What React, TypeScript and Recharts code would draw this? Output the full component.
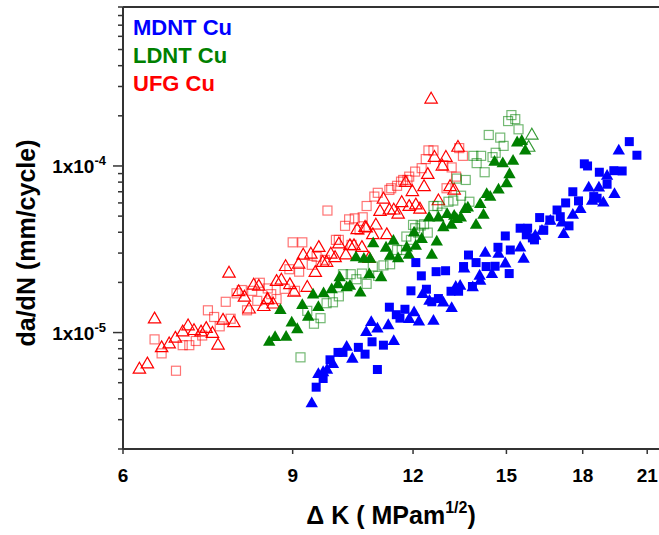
import React from 'react';
import { ScatterChart, Scatter, XAxis, YAxis, ReferenceLine } from 'recharts';

// ΔK (MPa m^1/2), da/dN (mm/cycle)
const mdntSquares: [number, number][] = [
  [9.52, 4.7e-6], [9.68, 5.3e-6], [9.84, 6.86e-6], [10.03, 7.6e-6], [10.15, 7.6e-6], [10.53, 8.15e-6],
  [10.7, 7.42e-6], [10.88, 8.8e-6], [11.02, 6.0e-6], [11.18, 8.4e-6], [11.34, 1.42e-5], [11.53, 1.28e-5],
  [11.63, 1.22e-5], [11.77, 1.38e-5], [11.94, 1.78e-5], [12.08, 2.63e-5], [12.24, 2.19e-5], [12.39, 1.82e-5],
  [12.55, 1.53e-5], [12.68, 2.32e-5], [12.75, 1.6e-5], [12.97, 2.35e-5], [13.14, 1.77e-5], [13.38, 1.77e-5],
  [13.54, 2.49e-5], [13.7, 2.92e-5], [13.83, 1.89e-5], [13.95, 2.63e-5], [14.29, 2.49e-5], [14.6, 2.5e-5],
  [14.7, 3.25e-5], [14.96, 3.8e-5], [15.1, 2.26e-5], [15.14, 3.13e-5], [15.5, 4.23e-5], [15.78, 4.23e-5],
  [15.73, 3.86e-5], [15.96, 3.7e-5], [16.04, 3.6e-5], [16.24, 4.9e-5], [16.4, 4.13e-5], [16.64, 4.74e-5],
  [16.93, 5.44e-5], [17.06, 4.96e-5], [17.28, 6.0e-5], [17.42, 4.37e-5], [17.58, 7.0e-5], [17.82, 6.17e-5],
  [18.07, 1.03e-4], [18.21, 1.0e-4], [18.48, 6.55e-5], [18.63, 6.4e-5], [18.73, 9.17e-5], [19.08, 7.77e-5],
  [19.39, 9.37e-5], [19.78, 9.33e-5], [20.12, 1.4e-4], [20.49, 1.16e-4],
];

const mdntTriangles: [number, number][] = [
  [9.42, 3.8e-6], [9.57, 5.7e-6], [9.68, 5.85e-6], [9.77, 6.05e-6], [9.91, 6.55e-6], [10.24, 8.3e-6],
  [10.38, 7.05e-6], [10.73, 1.02e-5], [10.86, 1.17e-5], [11.02, 1.07e-5], [11.31, 1.12e-5], [11.46, 9.0e-6],
  [11.89, 1.22e-5], [12.03, 1.34e-5], [12.17, 1.18e-5], [12.28, 1.72e-5], [12.48, 1.57e-5], [12.6, 1.19e-5],
  [12.9, 1.53e-5], [13.16, 1.42e-5], [13.29, 1.9e-5], [13.43, 1.93e-5], [13.56, 2.45e-5], [13.84, 1.89e-5],
  [14.07, 2.22e-5], [14.09, 2.07e-5], [14.26, 3.05e-5], [14.49, 2.27e-5], [14.72, 3.0e-5], [14.96, 2.63e-5],
  [15.5, 3.28e-5], [15.63, 2.8e-5], [16.07, 3.86e-5], [16.33, 4.13e-5], [16.66, 4.74e-5], [17.13, 4.63e-5],
  [17.2, 3.95e-5], [17.58, 5.15e-5], [17.9, 5.57e-5], [18.26, 7.5e-5], [18.41, 6.25e-5], [18.71, 7.5e-5],
  [18.91, 6.1e-5], [19.08, 8.83e-5], [19.42, 6.86e-5], [19.62, 1.25e-4],
];

const ldntTriangles: [number, number][] = [
  [8.51, 8.9e-6], [8.63, 9.5e-6], [8.86, 9.55e-6], [8.74, 1.38e-5], [8.98, 1.16e-5], [9.1, 1.06e-5],
  [9.21, 1.48e-5], [9.45, 1.71e-5], [9.57, 1.44e-5], [9.69, 1.74e-5], [9.34, 1.26e-5], [9.88, 1.84e-5],
  [10.03, 1.97e-5], [10.07, 2.17e-5], [10.24, 1.89e-5], [10.32, 1.93e-5], [10.58, 1.76e-5], [10.47, 2.86e-5],
  [10.67, 2.8e-5], [10.83, 2.8e-5], [10.91, 3.47e-5], [10.81, 2.26e-5], [11.12, 2.17e-5], [11.25, 3.27e-5],
  [11.36, 2.92e-5], [11.45, 3.6e-5], [11.58, 2.82e-5], [11.82, 3.28e-5], [11.88, 2.96e-5], [12.03, 4.03e-5],
  [12.08, 3.36e-5], [12.25, 3.69e-5], [12.47, 4.96e-5], [12.55, 2.96e-5], [12.7, 3.56e-5], [12.75, 4.96e-5],
  [12.9, 4.34e-5], [13.02, 5.2e-5], [13.15, 4.49e-5], [13.24, 5.08e-5], [13.32, 4.86e-5], [13.45, 4.96e-5],
  [13.59, 5.57e-5], [13.68, 5.7e-5], [13.95, 4.49e-5], [14.09, 5.97e-5], [14.2, 5.15e-5], [14.31, 6.86e-5],
  [14.43, 6.6e-5], [14.58, 1.07e-4], [14.72, 7.31e-5], [14.87, 1.05e-4], [15.01, 7.96e-5], [15.11, 9.03e-5],
  [15.24, 1.086e-4], [15.39, 1.4e-4], [15.56, 1.43e-4], [15.69, 1.25e-4],
];

const ldntSquares: [number, number][] = [
  [9.17, 7.1e-6], [9.32, 1.35e-5], [9.47, 1.13e-5], [9.62, 1.22e-5], [9.76, 1.5e-5], [9.91, 1.52e-5],
  [10.05, 1.65e-5], [10.15, 2.24e-5], [10.34, 2.24e-5], [10.48, 2.09e-5], [10.62, 2.26e-5], [10.74, 1.96e-5],
  [10.9, 2.49e-5], [11.04, 2.19e-5], [11.18, 2.53e-5], [11.36, 2.57e-5], [11.55, 3.13e-5], [11.68, 3.13e-5],
  [11.81, 3.77e-5], [11.94, 3.6e-5], [12.0, 4.43e-5], [12.06, 4.23e-5], [12.15, 3.98e-5], [12.22, 4.39e-5],
  [12.32, 4.47e-5], [12.43, 3.98e-5], [12.6, 5.75e-5], [12.72, 5.75e-5], [12.85, 5.25e-5], [13.06, 6.1e-5],
  [13.21, 6.2e-5], [13.32, 8.4e-5], [13.46, 6.63e-5], [13.61, 8.24e-5], [13.73, 6.1e-5], [13.86, 1.15e-4],
  [14.12, 1.15e-4], [13.97, 1.04e-4], [14.24, 9.17e-5], [14.38, 1.535e-4], [14.51, 1.13e-4], [14.62, 1.2e-4],
  [14.78, 1.48e-4], [14.9, 1.32e-4], [15.06, 1.86e-4], [15.18, 2.02e-4], [15.32, 1.91e-4], [15.44, 1.66e-4],
];

const ldntOpenTriangles: [number, number][] = [
  [15.94, 1.55e-4], [15.82, 1.31e-4],
];

const ufgTriangles: [number, number][] = [
  [6.24, 6.1e-6], [6.36, 6.55e-6], [6.47, 1.22e-5], [6.58, 8.2e-6], [6.7, 8.65e-6], [6.8, 9.35e-6],
  [6.92, 1.02e-5], [7.01, 1.11e-5], [7.11, 1.04e-5], [7.23, 1.02e-5], [7.32, 1.07e-5], [7.43, 1.0e-5],
  [7.53, 8.5e-6], [7.62, 1.2e-5], [7.73, 2.3e-5], [7.82, 1.16e-5], [7.91, 1.78e-5], [8.02, 1.65e-5],
  [8.11, 1.4e-5], [8.2, 1.95e-5], [8.3, 1.92e-5], [8.4, 1.45e-5], [8.47, 1.59e-5], [8.59, 1.5e-5],
  [8.66, 2.05e-5], [8.76, 2.09e-5], [8.85, 2.52e-5], [8.94, 1.96e-5], [8.48, 1.6e-5], [9.03, 1.77e-5],
  [9.13, 2.6e-5], [9.23, 2.95e-5], [9.32, 1.89e-5], [9.4, 2.99e-5], [9.5, 2.32e-5], [9.58, 3.28e-5],
  [9.67, 2.67e-5], [9.76, 2.67e-5], [9.86, 2.99e-5], [9.96, 2.85e-5], [10.05, 3.44e-5], [10.22, 2.96e-5],
  [10.32, 3.36e-5], [10.42, 3.36e-5], [10.5, 4.19e-5], [10.62, 3.28e-5], [10.7, 4.33e-5], [10.8, 2.82e-5],
  [10.9, 3.91e-5], [10.98, 4.47e-5], [11.09, 5.4e-5], [11.18, 6.4e-5], [11.27, 3.91e-5], [11.34, 5.5e-5],
  [11.46, 5.5e-5], [11.58, 5.2e-5], [11.68, 6.1e-5], [11.79, 8.05e-5], [11.89, 5.78e-5], [11.98, 7.1e-5],
  [12.08, 5.9e-5], [12.2, 5.57e-5], [12.32, 7.6e-5], [12.43, 9.0e-5], [12.53, 2.55e-4], [12.63, 1.14e-4],
  [12.75, 6.25e-5], [12.87, 1.01e-4], [12.98, 1.14e-4], [13.11, 7.6e-5], [13.24, 7.25e-5], [13.36, 1.31e-4],
  [10.73, 4.29e-5],
];

const ufgSquares: [number, number][] = [
  [6.47, 9.1e-6], [6.58, 7.5e-6], [6.81, 5.9e-6], [6.92, 8.4e-6], [7.03, 8.4e-6], [7.14, 8.9e-6],
  [7.25, 9.6e-6], [7.35, 1.36e-5], [7.46, 1.24e-5], [7.56, 1.09e-5], [7.67, 1.53e-5], [7.76, 1.21e-5],
  [7.87, 1.72e-5], [7.97, 1.8e-5], [8.07, 1.36e-5], [8.17, 1.78e-5], [8.27, 1.55e-5], [8.32, 1.99e-5],
  [8.48, 1.84e-5], [8.55, 1.7e-5], [8.66, 1.59e-5], [8.83, 1.83e-5], [8.93, 2.4e-5], [9.0, 3.48e-5],
  [9.21, 3.48e-5], [9.05, 1.78e-5], [9.14, 2.32e-5], [9.42, 2.55e-5], [9.53, 2.85e-5], [9.72, 2.73e-5],
  [9.78, 5.4e-5], [9.98, 3.6e-5], [10.05, 3.6e-5], [10.2, 4.37e-5], [10.3, 4.78e-5], [10.44, 4.85e-5],
  [10.64, 4.92e-5], [10.74, 5.75e-5], [10.94, 6.55e-5], [11.03, 6.9e-5], [11.34, 7.18e-5], [11.55, 7.6e-5],
  [11.72, 8.24e-5], [11.89, 8.63e-5], [12.06, 9.25e-5], [10.36, 3.36e-5], [10.56, 4.13e-5], [11.39, 7.35e-5],
  [11.66, 8.05e-5], [11.84, 8.24e-5], [12.25, 9.7e-5], [12.37, 1.1e-4], [12.45, 1.24e-4], [12.6, 1.24e-4],
  [12.9, 1.01e-4], [13.16, 9.8e-5], [13.0, 7.35e-5], [13.3, 8.63e-5], [13.4, 1.28e-4], [13.52, 1.15e-4],
];

const xTicks = [6, 9, 12, 15, 18, 21];
const yTicks = [
  2e-6, 3e-6, 4e-6, 5e-6, 6e-6, 7e-6, 8e-6, 9e-6,
  1e-5, 2e-5, 3e-5, 4e-5, 5e-5, 6e-5, 7e-5, 8e-5, 9e-5,
  1e-4, 2e-4, 3e-4, 4e-4, 5e-4, 6e-4, 7e-4, 8e-4, 9e-4,
];
const legendItems = [
  { label: 'MDNT Cu', color: '#0000ff' },
  { label: 'LDNT Cu', color: '#008000' },
  { label: 'UFG Cu', color: '#ff0000' },
];

const toPts = (arr: [number, number][]) => arr.map(([k, r]) => ({ k, r }));

const FONT = 'Arial, "Liberation Sans", sans-serif';
const AXIS = '#333333';

const FilledSquare = (color: string) => (p: any) =>
  <rect x={p.cx - 4.5} y={p.cy - 4.5} width={9} height={9} fill={color} />;
const OpenSquare = (color: string, op: number) => (p: any) =>
  <rect x={p.cx - 4.5} y={p.cy - 4.5} width={9} height={9} fill="none" stroke={color} strokeOpacity={op} strokeWidth={1.2} />;
const FilledTri = (color: string) => (p: any) =>
  <path d={`M${p.cx},${p.cy - 6}L${p.cx + 6.2},${p.cy + 4.8}L${p.cx - 6.2},${p.cy + 4.8}Z`} fill={color} />;
const OpenTri = (color: string, op: number) => (p: any) =>
  <path d={`M${p.cx},${p.cy - 6}L${p.cx + 6.2},${p.cy + 4.8}L${p.cx - 6.2},${p.cy + 4.8}Z`} fill="none" stroke={color} strokeOpacity={op} strokeWidth={1.2} />;

const YTick = (props: any) => {
  const { x, y, payload } = props;
  const v = payload.value as number;
  const e = Math.round(Math.log10(v));
  const major = Math.abs(v - Math.pow(10, e)) / v < 1e-6;
  return (
    <g>
      <line x1={x - (major ? 10 : 5)} x2={x} y1={y} y2={y} stroke={AXIS} strokeWidth={1.5} />
      {major && (
        <text x={x - 17} y={y + 7} textAnchor="end" fontFamily={FONT} fontWeight="bold" fontSize={19} fill="#000">
          1x10<tspan dy={-8} fontSize={13}>{String(e)}</tspan>
        </text>
      )}
    </g>
  );
};

const XTick = (props: any) => {
  const { x, y, payload } = props;
  return (
    <g>
      <line x1={x} x2={x} y1={y} y2={y + 5} stroke={AXIS} strokeWidth={1.5} />
      <text x={x} y={y + 33} textAnchor="middle" fontFamily={FONT} fontWeight="bold" fontSize={19} fill="#000">
        {payload.value}
      </text>
    </g>
  );
};

export default function App() {
  return (
    <div style={{ position: 'absolute', left: 0, top: 0, width: 659, height: 535, background: '#fff' }}>
      <ScatterChart width={659} height={535} margin={{ top: 7, right: 0, bottom: 0, left: 0 }}>
        <XAxis
          type="number"
          dataKey="k"
          scale="log"
          domain={[6, 21.6]}
          allowDataOverflow
          ticks={xTicks}
          interval={0}
          height={86}
          tickSize={0}
          tickMargin={0}
          tickLine={false}
          tick={<XTick />}
          axisLine={{ stroke: AXIS, strokeWidth: 2 }}
        />
        <YAxis
          type="number"
          dataKey="r"
          scale="log"
          domain={[2e-6, 9e-4]}
          allowDataOverflow
          ticks={yTicks}
          interval={0}
          width={123}
          tickSize={0}
          tickMargin={0}
          tickLine={false}
          tick={<YTick />}
          axisLine={{ stroke: AXIS, strokeWidth: 2 }}
        />
        <ReferenceLine y={9e-4} stroke={AXIS} strokeWidth={2} />
        <Scatter data={toPts(ufgSquares)} shape={OpenSquare('#ff0000', 0.55)} isAnimationActive={false} />
        <Scatter data={toPts(ufgTriangles)} shape={OpenTri('#ff0000', 1)} isAnimationActive={false} />
        <Scatter data={toPts(ldntSquares)} shape={OpenSquare('#008000', 0.55)} isAnimationActive={false} />
        <Scatter data={toPts(ldntTriangles)} shape={FilledTri('#008000')} isAnimationActive={false} />
        <Scatter data={toPts(ldntOpenTriangles)} shape={OpenTri('#008000', 0.8)} isAnimationActive={false} />
        <Scatter data={toPts(mdntSquares)} shape={FilledSquare('#0000ff')} isAnimationActive={false} />
        <Scatter data={toPts(mdntTriangles)} shape={FilledTri('#0000ff')} isAnimationActive={false} />
      </ScatterChart>
      <svg width={659} height={535} style={{ position: 'absolute', left: 0, top: 0, pointerEvents: 'none' }}>
        {legendItems.map((it, i) => (
          <text key={it.label} x={133} y={35 + i * 28} fontFamily={FONT} fontWeight="bold" fontSize={22} fill={it.color}>
            {it.label}
          </text>
        ))}
        <text x={391} y={524} textAnchor="middle" fontFamily={FONT} fontWeight="bold" fontSize={25} fill="#000">
          {'\u0394 K ( MPam'}
          <tspan dy={-11} fontSize={16}>1/2</tspan>
          <tspan dy={11} fontSize={25}>)</tspan>
        </text>
        <text transform="translate(35,243) rotate(-90)" textAnchor="middle" fontFamily={FONT} fontWeight="bold" fontSize={25} fill="#000">
          da/dN (mm/cycle)
        </text>
      </svg>
    </div>
  );
}
